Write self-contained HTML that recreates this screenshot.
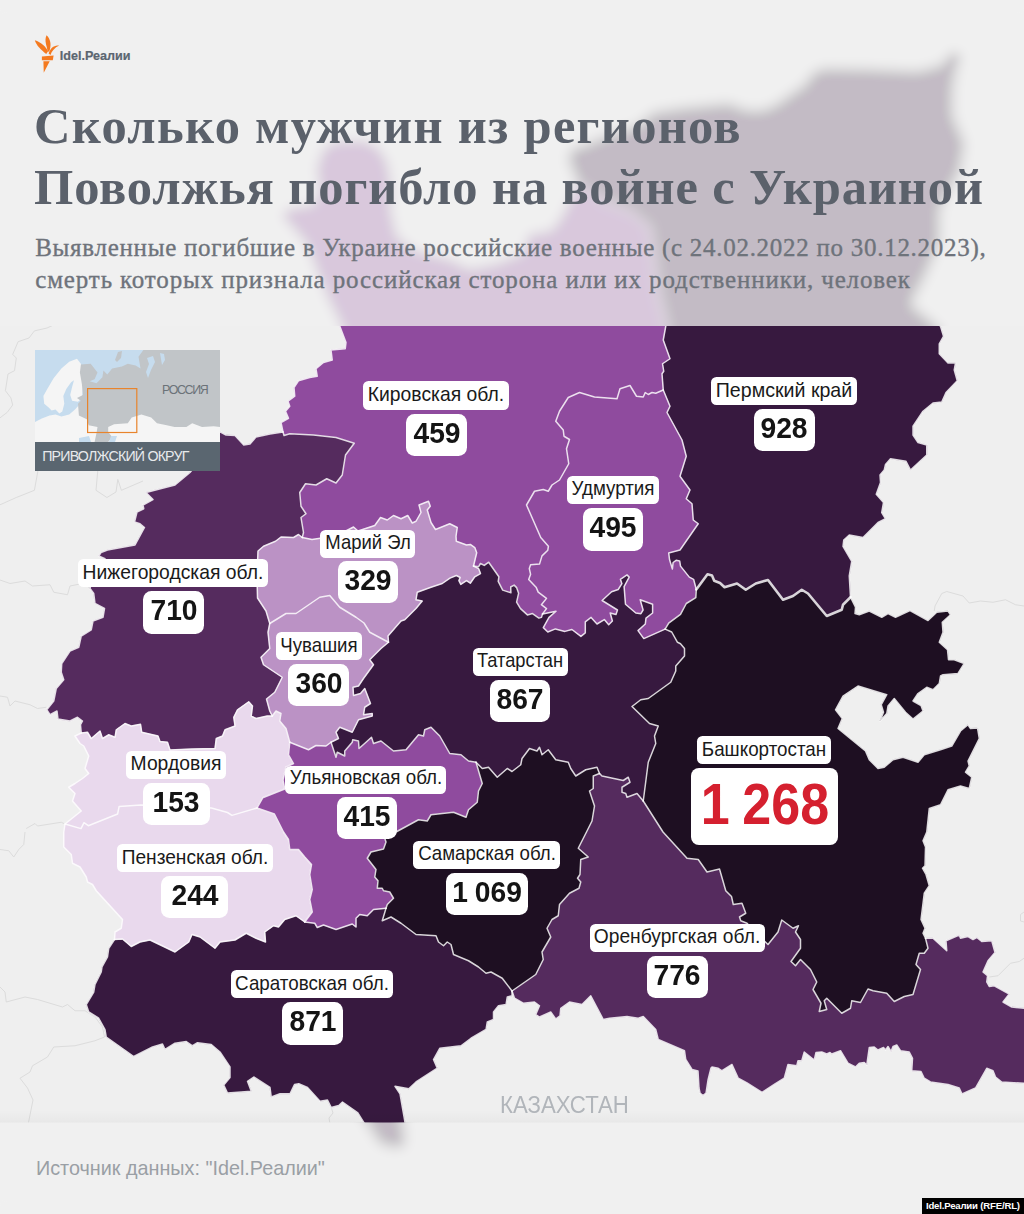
<!DOCTYPE html>
<html lang="ru"><head><meta charset="utf-8"><title>Idel.Реалии</title>
<style>
html,body{margin:0;padding:0}
body{width:1024px;height:1214px;position:relative;overflow:hidden;background:#efefef;font-family:"Liberation Sans",sans-serif}
svg{position:absolute;left:0;top:0}
.nm,.vl{position:absolute;background:#fff;text-align:center;white-space:nowrap;color:#1a1a1a;box-sizing:border-box}
.nm{border-radius:5.5px;font-size:20.3px}
.nm span{position:absolute;left:50%;top:-1.5px;display:block}
.vl{border-radius:8.5px;font-weight:bold;font-size:30px;color:#141414}
.vl span{display:inline-block;transform:scaleX(0.94)}
.vl.w4{word-spacing:-1px}
.vl span{position:relative;top:-2px}
.vl.big{font-size:57.5px;color:#d5202f;word-spacing:-2px;border-radius:8px}
.vl.big span{top:-2px;transform:scaleX(0.905)}
#title{position:absolute;left:34px;top:96px;font-family:"Liberation Serif",serif;font-weight:bold;font-size:50.5px;line-height:61px;color:#5b616b;white-space:nowrap;margin:0}
#sub{position:absolute;left:35.2px;top:232px;font-family:"Liberation Serif",serif;font-size:25px;line-height:31.5px;color:#6e737b;-webkit-text-stroke:0.35px #6e737b;white-space:nowrap;margin:0}
#logo{position:absolute;left:59.8px;top:47.5px;font-weight:bold;font-size:12.6px;color:#5b6670;-webkit-text-stroke:0.2px #5b6670;white-space:nowrap;line-height:16px}
#src{position:absolute;left:36px;top:1157px;font-size:19.8px;color:#9a9fa5;white-space:nowrap;line-height:22px}
#kaz{position:absolute;left:500px;top:1091.5px;font-size:23.5px;color:#b1b5ba;white-space:nowrap;line-height:26px;transform:scaleX(0.946);transform-origin:0 0}
#badge{position:absolute;left:921.8px;top:1197.8px;width:102.2px;height:16.2px;background:#000;color:#fff;font-weight:bold;font-size:9.6px;line-height:16.2px;text-align:center;white-space:nowrap;letter-spacing:-0.185px}
#inset{position:absolute;left:35px;top:350px;width:185px;height:120.5px;overflow:hidden}
#insbar{position:absolute;left:0;top:91.7px;width:185px;height:29px;background:#5a6670;color:#e8eaec;font-size:14.2px;letter-spacing:-0.8px;line-height:29px;white-space:nowrap}
#insbar span{position:absolute;left:7.2px;top:0.4px}
#ros{position:absolute;left:127px;top:32px;font-size:12.4px;letter-spacing:-1.35px;color:#6b7278;line-height:16px;white-space:nowrap}
</style></head>
<body>
<svg width="1024" height="1214" viewBox="0 0 1024 1214">
<defs>
<g id="mapg">
<rect x="0" y="0" width="1024" height="1214" fill="#efefef"/>
<polyline points="0,417.8 7.2,412.4 12.7,405 10.9,397.9 5.4,390.7 8,374 14.5,370.7 16.3,358 12.7,354.4 18.1,341.7 29,338 34.4,330.9 47,328 60,322" fill="none" stroke="#dcdcdc" stroke-width="1"/>
<polyline points="0,504.8 16.3,497.5 34.4,490.3 38,470.4" fill="none" stroke="#dcdcdc" stroke-width="1"/>
<polyline points="97.8,470.4 96,490.3 106.9,497.5 116,492 117.8,479.4 121.4,490.3 143,481" fill="none" stroke="#dcdcdc" stroke-width="1"/>
<polyline points="0,580 10,583.5 25,581 32.5,586 50,584.75 53.75,592.25 67.5,594.75 70,586 82.5,583.5 90,588" fill="none" stroke="#dcdcdc" stroke-width="1"/>
<polyline points="0,696 7.5,697.25 10,706 15,701 30,704.75 37.5,708.5 46.25,707.25" fill="none" stroke="#dcdcdc" stroke-width="1"/>
<polyline points="26.25,828.5 35,823.5 37.5,826 61.25,822.25 65,824" fill="none" stroke="#dcdcdc" stroke-width="1"/>
<polyline points="0,987 5,992 6.25,1002 25,997 37.5,999.5 50,1003.25 62.5,1007 67.5,1004.5 75,1010.75 85,1010.75 95,1017 102.5,1027 104.5,1037" fill="none" stroke="#dcdcdc" stroke-width="1"/>
<polyline points="104.5,1037 95,1040.75 75,1045.75 53.75,1047 47.5,1057 32.5,1065.75 30,1072 20,1078.25 27.5,1088 33,1100 28,1125" fill="none" stroke="#dcdcdc" stroke-width="1"/>
<polyline points="25,832 23.75,844.5 18.75,849.5 13.75,857 8.75,850.75 0,849.5" fill="none" stroke="#dcdcdc" stroke-width="1"/>
<polyline points="934.25,611 935,606 941.75,593.5 946.75,591.5 963,596 969.25,603 980.5,601 993,602.25 1005.5,599.75 1015.5,604.75 1024,606" fill="none" stroke="#dcdcdc" stroke-width="1"/>
<polyline points="989.25,977 998,975.75 1010.5,963.25 1019.25,961.5 1024,958.25" fill="none" stroke="#dcdcdc" stroke-width="1"/>
<polyline points="1024,912 1020.5,914.5 1020.5,921 1024,922" fill="none" stroke="#dcdcdc" stroke-width="1"/>
<polyline points="331.25,1107.5 333,1113 329,1118 330,1124" fill="none" stroke="#dcdcdc" stroke-width="1"/>
<polygon points="599.5,773.5 593.25,776 593.25,788.5 589.5,791 594.5,806 592,821 586.5,832 578.25,848.25 588.25,857 580.75,859.5 580,874.5 577.5,878.25 580.75,882 579,888.25 569.5,893.25 559.5,904.5 558.25,915.75 552,919.5 547,928.25 550.75,937 542,952 543.25,959.5 535.75,974.5 512,991 514.5,998.25 523.25,1003.25 534.5,1002 539.5,1005.75 535.75,1014.5 539.5,1017 550.75,1012 555.75,1019 560,1015.75 560.75,1008.25 569.5,1002 582,1004.5 590.75,995.75 603.25,1019.5 609.5,1018.25 627,1016.5 638.25,1018.25 643.25,1016.5 655.75,1029.5 658.25,1039.5 684.5,1050.75 685.75,1059.5 692,1069.5 698,1071 699,1088 700,1093 703,1095.5 706,1093 708,1080 711,1068 712,1067 718.25,1068.25 722,1070.75 732,1064.5 738.25,1078.25 747,1083 762,1092.5 775,1084 784.25,1078.25 788,1064.5 796.75,1065.75 798,1060.75 801.75,1060.75 804.25,1052 814.25,1060 816,1052.5 821.75,1052 826.75,1054 830,1052.5 831.75,1054 840.5,1050.75 848,1063.25 855.5,1067 859.25,1063.25 864.25,1062.5 866.75,1065 869.25,1047.5 874.25,1047 878,1050 883.5,1047.5 885.5,1050 888,1046.5 891,1051.5 893,1046.5 896.75,1045 900.5,1050.75 909.25,1052 912.5,1058.25 911.75,1070.75 921,1071.5 924.25,1078.25 930.5,1082 948,1084.5 959.25,1088 962,1094 975.5,1088 986.75,1068.25 993,1070.75 995.5,1077 1001.75,1082 1024,1083.25 1032,1083 1032,1008 1024,1008.25 1011.75,1007 1003,1002 1009.25,994 994.25,985.75 989.25,986.5 986.75,982 987.5,975.75 983,972 988,960.75 995,952.5 991.75,940.75 981.75,941.5 976.75,937.5 973,939.5 968,936.5 960.5,938.25 959.25,935 946,940.75 946.75,950.75 933,938.25 925.5,938.25 928,948.25 924.25,953.25 919.25,953.25 916,964.5 920.5,969.5 913,994.5 904.25,996.5 894.25,1001.5 886.75,993.25 873,990.75 868,989 860.5,1002.5 851.75,1000.75 850.5,1008.25 841.75,1013.25 826.75,998.25 824.25,1000.75 826.75,1009.5 819.25,1011.5 821,1003.25 813,989.5 816.75,982 810.5,969.5 800.5,959.5 795.5,965.75 791,961.5 800.5,948.25 800.5,939.5 795.5,932 798.5,925.75 793,928.25 781.75,920 778,932 768,944.5 757,934 747,923.25 740.75,920.75 739.5,917 745.75,913.25 742,903.25 733.25,904.5 731.5,896.5 725.75,890.75 719.5,869 707,872 698.25,859.5 687,858.25 663,832 643.25,801 637,793.5 627,797.25 625.75,793.5 622,792.25 622,787.25 630,782.25 628.25,777.25 623.25,780.5 602,776" fill="#552b5e" stroke="#552b5e" stroke-width="0.6" stroke-linejoin="round"/>
<polygon points="575,182 566,160 570,148 582.5,143.5 611,131.6 634.5,124.5 653.4,110 681.8,105.6 729,101 748,108 762,108 776,102 790,92 802,84 812,71 823.6,66 870.9,67 918,69 940,63 952,50 963,55 958,72 955,90 955,115 967,143.4 962,171.8 941.8,209.6 941.8,242.7 927.6,275.8 913.4,304 940.5,326.25 943.5,336.25 939.25,343.75 939.25,353.75 948,363 955.5,363 954.25,370 957.25,380.75 946,392.5 941.75,402 933,403 923,411.25 913,426.25 913,435 918,442.5 926.75,445 926.75,455 910.5,470 906,461.25 890.5,458.75 885.5,464.5 884.25,470 880,475 880.5,482.5 876.25,494.25 883.5,502.5 881.75,512.5 885.5,518.75 878,522.5 863,537.5 849.25,535 843.75,540 843,546.25 851.75,561.25 849.25,576 850.5,597.25 843,604.75 841.75,609.75 826.75,616 808,593.5 801.75,589.75 793,596 783,599.75 768,580 755.75,583.5 745.75,589.75 737,583.5 724.5,587.25 720,583 714.2,580.8 712,575.6 707.5,574.2 696.3,589.5 693.6,579.3 689.3,577.1 680.5,566.1 679.7,561 676.1,560.3 673.1,562.5 672.4,569 669.5,559.5 668.7,552.9 680,550 698.25,523.75 693.25,520 692,503.75 686.25,498.75 690,490 680,476.25 686.25,456.25 682,440 667,412.5 670,406.25 663.25,390 662,373.75 663.75,371.25 662.5,363.75 670,358.75 663.25,340 665.75,326.25 658,295 653,257 649,228 630,212 600,200" fill="#37193f" stroke="#37193f" stroke-width="0.6" stroke-linejoin="round"/>
<polygon points="575,182 600,200 630,212 649,228 653,257 658,295 665.75,326.25 663.25,340 670,358.75 662.5,363.75 663.75,371.25 662,373.75 663.25,390 655.75,393.25 652,392.5 648.25,394.5 645.25,392.5 643.25,397 636.5,396.25 630,385.5 620,388.75 617,398.75 594.5,397 579.5,392.5 568.25,397.5 559.5,411.25 555.75,421.25 563.25,430 564,436.25 569.5,439.5 566.5,448.75 568.75,463.75 559.5,480 552,485 548.25,491.25 543.25,489.5 534.5,491.25 526.5,505 540.75,537.5 548.4,546.3 547.8,550.2 542,555.9 539.5,564.1 530.6,564.8 529.3,568.6 530.6,574.3 528.7,579.4 536.3,587.6 538.2,592.1 546.5,598.4 541.4,604.7 546.5,608.6 542.5,614 541.4,617.4 538.9,618.1 532.5,613.6 527.4,614.9 520.5,608.6 516.6,602.2 518.6,593.3 516.6,587.6 514.1,585.1 510.7,587 510.9,592.7 502.7,590.1 498.2,581.3 498.9,576.8 488.7,562.2 484.3,565.4 480.5,563.5 478.6,566.7 473.5,566 476.7,552.7 474.8,547.6 470.3,544.4 466.5,545 456.3,541.3 456,536.25 457.25,527.5 449.75,523.75 435.5,529.5 431,522.5 427.25,510 430.25,506.25 428.5,501.25 419,505 421,512.5 416,521.25 412.25,523 407.75,515.5 401,518.75 393.5,515.5 387.25,520 380.5,517.5 374.75,525.5 358,531 353.5,527 340,534 322,538 312,539.5 302.25,537.5 303.5,532.5 301,517.5 306,513.75 301,506.25 299.75,492.5 305.5,483.75 316,485 326.75,478.75 336,483 342.25,475 345.5,455 354.25,443.25 336,437.5 313.5,435 289.75,433.75 284,435.5 283,432 281,422.5 288.5,418.25 285.5,411.25 289.75,406.25 288,401.25 294.75,396.25 294,387.5 298.5,380.75 309.75,377.5 317.25,376.25 316,368.75 323.5,362.5 332.25,360 331,350 345.25,348.75 346,342.5 339.75,326 333,312 328,303 315,271 305.5,245 289,226 280,216 289,207 312,203.5 318,190.5 315,168 321.5,148.7 334.5,140 363.5,138.6 379.6,146.7 389,161.6 394,190.5 392,207 398,235 415,248.6 450.5,258 470,267 495.6,262 521.4,252 527.8,233 550.4,229 560,216 568,200" fill="#8f4b9e" stroke="#8f4b9e" stroke-width="0.6" stroke-linejoin="round"/>
<polygon points="283,432 270,434 256,437 250,444 243.75,445 235,435.5 226,435 220,431.75 214,440 200,460 190,472.5 175,485 146,492.5 153,499.5 143,505 143.75,508.75 137,512 134.5,522 140,523.75 144.5,527.5 135,545 107.5,550 101,552.5 98.75,556 105,558.75 100,566 92,580 90,588.5 93.75,593.5 95,603.5 104.5,608.5 103,617.25 93,621 91.25,629.75 81.25,636 78.75,647.25 70,651 61.75,663.5 61.25,672.25 63.75,679.75 56.25,688.5 53.75,701 46.75,709.75 50,714.75 57,711 58,719 70,721 77.5,717.25 82.5,721 80.5,724.75 81.25,733 87.5,732.25 91.25,738.5 100,731 102.5,738.5 108.75,734.75 115,737.25 116.25,729.75 125,723.5 131.25,726 140.5,724.25 141.75,732.25 158,736 160,741.5 167.5,742.25 170,750 192,749 215,748.5 216.25,738.5 222.5,736 225,729.75 235,726 233.75,717.25 237.5,709.75 248.75,701.75 252.5,706 251.25,716 256,718.5 267.25,716 272.25,716 269.75,711 266.5,699 274.75,692.25 282.25,677.25 263.5,664.75 261,657.25 269.75,648.5 268,632.25 269.75,623.5 266,611 257.5,598 257,575 258,551 263.5,546.25 275.5,541.25 281,537 293.5,537.5 298.5,534.5 302.25,537.5 303.5,532.5 301,517.5 306,513.75 301,506.25 299.75,492.5 305.5,483.75 316,485 326.75,478.75 336,483 342.25,475 345.5,455 354.25,443.25 336,437.5 313.5,435 289.75,433.75 284,435.5" fill="#552b5e" stroke="#552b5e" stroke-width="0.6" stroke-linejoin="round"/>
<polygon points="114.5,939.5 122.5,939 131.25,946.5 140,942 150,940 175,952 188.75,942 192,934.5 200,937 215,948.25 220,942 235,940 246.25,933.25 256,938.25 265.5,942 264.75,932 273.5,925.75 278.5,927 284.75,919.5 296,915.75 304.75,922 314.75,923.25 317.25,927.5 323.5,925 336,929.5 352.25,924 356,927 356,918.25 359.75,914.5 367.25,915.75 373.5,909.5 386,908.25 382.25,920.75 391,917 401,923.25 416,934.5 436,935.75 438.5,942 443.5,945.75 447.25,942 451,944.5 453.5,954.5 468.5,960.75 478.5,967 486,973.25 491,972 502.25,978.25 512,991 512,995.75 507.25,997 506,1004.5 498.5,1005.75 493.5,1012 493.5,1019.5 487.25,1022 486,1029.5 471,1038.25 461,1045.75 439.75,1048.25 433.5,1059.5 437.25,1068.25 416,1082 408.75,1088.75 395,1086.25 400,1093.75 405,1122.5 407,1135 406,1148 392,1150 378,1145 363.75,1122.5 357.5,1112.5 342.5,1102 338.75,1105.5 331.25,1107.5 327.5,1100 320,1101.25 307.5,1087.5 298.75,1083.75 294.5,1084.5 290,1093.75 280,1093.75 271.25,1097 270,1087.5 253.75,1077 247.5,1081.25 251.25,1091.25 227.5,1093 223.75,1085 230,1077.5 230,1067 220,1052 211.25,1044.5 197.5,1042.75 192.5,1045.75 186.25,1041.5 175,1043.25 165,1049.5 162.5,1044 152.5,1047 133.75,1056.5 106.25,1037 105,1029.5 98.75,1018.25 88.75,1012 86.25,1004.5 93.75,992 95,984.5 101.25,972 102,967 107.5,957 108.75,948.25" fill="#37193f" stroke="#37193f" stroke-width="0.6" stroke-linejoin="round"/>
<polygon points="65,824 81,828.6 84,822.7 88.3,825.7 117.6,814 119.1,806.6 141,805 175,806 211.4,808 227.5,812.5 232,815.4 257,808 274.4,814 283.5,832 288.5,839.5 289.75,849.5 298.5,849.5 304.75,857 311.5,864.5 309.75,874.5 312.25,889.5 309.75,899.5 312.25,912 304.75,922 296,915.75 284.75,919.5 278.5,927 273.5,925.75 264.75,932 265.5,942 256,938.25 246.25,933.25 235,940 220,942 215,948.25 200,937 192,934.5 188.75,942 175,952 150,940 140,942 131.25,946.5 122.5,939 114.5,939.5 115,932 121.25,928.25 122.5,919.5 96.25,890.75 92.5,884.5 87.5,882 86.25,877 80,867 72.5,863.25 71.25,854.5 63.75,847 63.75,832" fill="#e9d9ed" stroke="#e9d9ed" stroke-width="0.6" stroke-linejoin="round"/>
<polygon points="81.25,733 87.5,732.25 91.25,738.5 100,731 102.5,738.5 108.75,734.75 115,737.25 116.25,729.75 125,723.5 131.25,726 140.5,724.25 141.75,732.25 158,736 160,741.5 167.5,742.25 170,750 192,749 215,748.5 216.25,738.5 222.5,736 225,729.75 235,726 233.75,717.25 237.5,709.75 248.75,701.75 252.5,706 251.25,716 256,718.5 267.25,716 272.25,716 276,711 281,713.5 279.75,721 286,728.5 289.75,742.25 288.5,754.75 293.5,763.5 286,767 283,780 284.7,789 262.7,797.8 257,808 232,815.4 227.5,812.5 211.4,808 175,806 141,805 119.1,806.6 117.6,814 88.3,825.7 84,822.7 81,828.6 65,824 75,816 81.25,811 72.5,801 75,793.5 68.75,787.25 75,783.5 82.5,778.5 88.75,773.5 85,768.5 88.75,756 83.75,746 80,743.5 75,736" fill="#e9d9ed" stroke="#e9d9ed" stroke-width="0.6" stroke-linejoin="round"/>
<polygon points="289.75,742.25 308.5,749.75 316,745.5 326,746 331,742.25 336,757.25 337.25,752.25 344.75,756 344.75,751 352.25,742.25 352.75,739.75 358.5,741 359,748.5 366,742.25 371.5,737.25 373.5,743.5 381,741 393.5,751 406,749.75 418.5,734.75 423.5,736 424.75,729.75 431,727.25 439.75,736 449.75,753.5 461,754.75 468.5,761 476,762.25 482.25,783.5 478.5,791 477.25,802.25 468.5,809.75 466,817.25 453.5,812.25 431,814.75 427.25,821 418.5,819.75 396,832 384.75,838.25 386,842 383.5,849 371,852 367.25,858.25 376,869.5 374.75,877 378,880.75 377.25,888.25 382.25,888.25 383.5,890.75 389.75,892 393.5,898.25 387.25,904.5 386,908.25 373.5,909.5 367.25,915.75 359.75,914.5 356,918.25 356,927 352.25,924 336,929.5 323.5,925 317.25,927.5 314.75,923.25 304.75,922 312.25,912 309.75,899.5 312.25,889.5 309.75,874.5 311.5,864.5 304.75,857 298.5,849.5 289.75,849.5 288.5,839.5 283.5,832 274.4,814 257,808 262.7,797.8 284.7,789 283,780 286,767 293.5,763.5 288.5,754.75" fill="#8f4b9e" stroke="#8f4b9e" stroke-width="0.6" stroke-linejoin="round"/>
<polygon points="476,762.25 482.25,768.5 488.5,767.25 497.25,777.25 507.25,768.5 512,771.5 520.75,764.75 522,758.5 529.5,748.5 537,751 539.5,747.25 542,754.75 548.25,749.75 555.75,759.75 568.25,762.25 570.75,768.5 575.75,776 585.75,769.75 597,767.25 599.5,773.5 593.25,776 593.25,788.5 589.5,791 594.5,806 592,821 586.5,832 578.25,848.25 588.25,857 580.75,859.5 580,874.5 577.5,878.25 580.75,882 579,888.25 569.5,893.25 559.5,904.5 558.25,915.75 552,919.5 547,928.25 550.75,937 542,952 543.25,959.5 535.75,974.5 512,991 502.25,978.25 491,972 486,973.25 478.5,967 468.5,960.75 453.5,954.5 451,944.5 447.25,942 443.5,945.75 438.5,942 436,935.75 416,934.5 401,923.25 391,917 382.25,920.75 386,908.25 387.25,904.5 393.5,898.25 389.75,892 383.5,890.75 382.25,888.25 377.25,888.25 378,880.75 374.75,877 376,869.5 367.25,858.25 371,852 383.5,849 386,842 384.75,838.25 396,832 418.5,819.75 427.25,821 431,814.75 453.5,812.25 466,817.25 468.5,809.75 477.25,802.25 478.5,791 482.25,783.5" fill="#1e0f22" stroke="#1e0f22" stroke-width="0.6" stroke-linejoin="round"/>
<polygon points="473.5,566 478.6,566.7 480.5,563.5 484.3,565.4 488.7,562.2 498.9,576.8 498.2,581.3 502.7,590.1 510.9,592.7 510.7,587 514.1,585.1 516.6,587.6 518.6,593.3 516.6,602.2 520.5,608.6 527.4,614.9 532.5,613.6 538.9,618.1 541.4,617.4 542.5,614 556,611.3 549,617.4 543.3,627.6 547.8,632 555.4,628.9 564.9,631.4 571.9,629.5 580.9,636.4 585.3,632.8 585.3,621.8 591.1,617.4 597,624 604.3,619.6 608.7,624.7 612.4,621 610.2,613 616,614.4 617.5,610 602.1,600.5 611.6,591.7 618.2,589.5 621.9,583.7 620.4,579.3 627,574.9 629.2,577.1 624.1,586.6 625.5,604.2 635.8,613 640.9,613.7 643.1,610 640.2,599.8 652.6,604.2 652.6,613 646,618.1 645.3,624 638,630.6 643.8,638.6 665.1,629.1 671.7,632 677.5,642.3 680.5,643.7 684.5,648.5 684.5,656 675.75,666 675.75,671 670.75,682.25 648.25,698.5 640.75,699.75 632,706.5 649.5,723.5 658.25,726 654.5,736 655.75,743.5 648.25,762.25 643.25,801 637,793.5 627,797.25 625.75,793.5 622,792.25 622,787.25 630,782.25 628.25,777.25 623.25,780.5 602,776 599.5,773.5 597,767.25 585.75,769.75 575.75,776 570.75,768.5 568.25,762.25 555.75,759.75 548.25,749.75 542,754.75 539.5,747.25 537,751 529.5,748.5 522,758.5 520.75,764.75 512,771.5 507.25,768.5 497.25,777.25 488.5,767.25 482.25,768.5 476,762.25 468.5,761 461,754.75 449.75,753.5 439.75,736 431,727.25 424.75,729.75 423.5,736 418.5,734.75 406,749.75 393.5,751 381,741 373.5,743.5 371.5,737.25 366,742.25 359,748.5 358.5,741 352.75,739.75 352.25,742.25 344.75,751 344.75,756 337.25,752.25 336,757.25 331,742.25 338.5,738.5 336,732.25 339.75,727.25 352.25,732.25 358.5,719.75 372.25,716 372.25,713.5 363.5,714.75 364.75,707.25 370.5,703.5 364.75,688.5 360.5,693.5 353.5,695.5 353,687.25 358.5,686 363.5,678.5 373.5,664.75 369.75,659.75 381,648.5 388.5,642.25 388,636 401,621 404.75,619.75 416,608.5 422.25,601 416,599.75 417.25,592.25 431,587.25 442.25,583.5 450,578.1 456.3,575.5 460.2,577.5 458.9,580.6 460.8,584.4 466.5,580.6 470.3,583.2 474.8,576.8 480.5,573.6 478.6,568.6" fill="#37193f" stroke="#37193f" stroke-width="0.6" stroke-linejoin="round"/>
<polygon points="269.75,623.5 286,613.5 296,613.5 319.75,597.25 329.75,595.5 339.75,607.25 356,617.25 364,623 369.75,632.25 388.5,642.25 381,648.5 369.75,659.75 373.5,664.75 363.5,678.5 358.5,686 353,687.25 353.5,695.5 360.5,693.5 364.75,688.5 370.5,703.5 364.75,707.25 363.5,714.75 372.25,713.5 372.25,716 358.5,719.75 352.25,732.25 339.75,727.25 336,732.25 338.5,738.5 331,742.25 326,746 316,745.5 308.5,749.75 289.75,742.25 286,728.5 279.75,721 281,713.5 276,711 272.25,716 269.75,711 266.5,699 274.75,692.25 282.25,677.25 263.5,664.75 261,657.25 269.75,648.5 268,632.25" fill="#bb92c5" stroke="#bb92c5" stroke-width="0.6" stroke-linejoin="round"/>
<polygon points="302.25,537.5 312,539.5 322,538 340,534 353.5,527 358,531 374.75,525.5 380.5,517.5 387.25,520 393.5,515.5 401,518.75 407.75,515.5 412.25,523 416,521.25 421,512.5 419,505 428.5,501.25 430.25,506.25 427.25,510 431,522.5 435.5,529.5 449.75,523.75 457.25,527.5 456,536.25 456.3,541.3 466.5,545 470.3,544.4 474.8,547.6 476.7,552.7 473.5,566 478.6,568.6 480.5,573.6 474.8,576.8 470.3,583.2 466.5,580.6 460.8,584.4 458.9,580.6 460.2,577.5 456.3,575.5 450,578.1 442.25,583.5 431,587.25 417.25,592.25 416,599.75 422.25,601 416,608.5 404.75,619.75 401,621 388,636 388.5,642.25 369.75,632.25 364,623 356,617.25 339.75,607.25 329.75,595.5 319.75,597.25 296,613.5 286,613.5 269.75,623.5 266,611 257.5,598 257,575 258,551 263.5,546.25 275.5,541.25 281,537 293.5,537.5 298.5,534.5" fill="#bb92c5" stroke="#bb92c5" stroke-width="0.6" stroke-linejoin="round"/>
<polygon points="663.25,390 670,406.25 667,412.5 682,440 686.25,456.25 680,476.25 690,490 686.25,498.75 692,503.75 693.25,520 698.25,523.75 680,550 668.7,552.9 669.5,559.5 672.4,569 673.1,562.5 676.1,560.3 679.7,561 680.5,566.1 689.3,577.1 693.6,579.3 696.3,589.5 695.8,597.6 686.3,603.5 680.5,614.4 668.7,623.2 665.1,629.1 643.8,638.6 638,630.6 645.3,624 646,618.1 652.6,613 652.6,604.2 640.2,599.8 643.1,610 640.9,613.7 635.8,613 625.5,604.2 624.1,586.6 629.2,577.1 627,574.9 620.4,579.3 621.9,583.7 618.2,589.5 611.6,591.7 602.1,600.5 617.5,610 616,614.4 610.2,613 612.4,621 608.7,624.7 604.3,619.6 597,624 591.1,617.4 585.3,621.8 585.3,632.8 580.9,636.4 571.9,629.5 564.9,631.4 555.4,628.9 547.8,632 543.3,627.6 549,617.4 556,611.3 542.5,614 546.5,608.6 541.4,604.7 546.5,598.4 538.2,592.1 536.3,587.6 528.7,579.4 530.6,574.3 529.3,568.6 530.6,564.8 539.5,564.1 542,555.9 547.8,550.2 548.4,546.3 540.75,537.5 526.5,505 534.5,491.25 543.25,489.5 548.25,491.25 552,485 559.5,480 568.75,463.75 566.5,448.75 569.5,439.5 564,436.25 563.25,430 555.75,421.25 559.5,411.25 568.25,397.5 579.5,392.5 594.5,397 617,398.75 620,388.75 630,385.5 636.5,396.25 643.25,397 645.25,392.5 648.25,394.5 652,392.5 655.75,393.25" fill="#8f4b9e" stroke="#8f4b9e" stroke-width="0.6" stroke-linejoin="round"/>
<polygon points="696.3,589.5 707.5,574.2 712,575.6 714.2,580.8 720,583 724.5,587.25 737,583.5 745.75,589.75 755.75,583.5 768,580 783,599.75 793,596 801.75,589.75 808,593.5 826.75,616 841.75,609.75 843,604.75 850.5,597.25 855.5,607.25 855,613.5 859.25,614.75 869.25,611 881.75,617.25 888,613.5 895.5,617.25 910,610.5 928,620.5 936.75,612.25 948,611 950.5,614.75 942.25,622.25 943,632.25 939.25,642.25 947.5,649.75 948.5,659.75 954.25,659.75 964.25,663.5 958,673.5 943,674.75 940.5,676 939.25,683.5 933,689.75 926.75,687.25 918,693.5 913,701 921,705.5 923,711 913,719 905.5,712.25 894.25,698.5 888,706 886.75,713.5 880,721 883.5,712.25 881.25,704.75 886.75,694.75 858,686 843,696 835.5,709.75 842.25,718.5 838,728.5 865.5,751 869.25,759.75 878,768.5 884.25,767.25 893,759.75 903,757.25 918,762.25 924.25,754.75 940.5,749.75 951.75,746 960.5,731 968,724.75 970.5,728.5 977.5,728 979.25,738.5 968,761 969.25,766 965.5,772.25 971.75,777.25 969.25,788.5 960.5,786 948,789.75 940.5,804.75 929.25,808.5 926.75,832 923,840.75 925.5,847 925,865.75 922.5,868.25 926,874.5 929.25,885.75 924.25,893.25 921,919.5 925,928.25 923,933.25 925.5,938.25 928,948.25 924.25,953.25 919.25,953.25 916,964.5 920.5,969.5 913,994.5 904.25,996.5 894.25,1001.5 886.75,993.25 873,990.75 868,989 860.5,1002.5 851.75,1000.75 850.5,1008.25 841.75,1013.25 826.75,998.25 824.25,1000.75 826.75,1009.5 819.25,1011.5 821,1003.25 813,989.5 816.75,982 810.5,969.5 800.5,959.5 795.5,965.75 791,961.5 800.5,948.25 800.5,939.5 795.5,932 798.5,925.75 793,928.25 781.75,920 778,932 768,944.5 757,934 747,923.25 740.75,920.75 739.5,917 745.75,913.25 742,903.25 733.25,904.5 731.5,896.5 725.75,890.75 719.5,869 707,872 698.25,859.5 687,858.25 663,832 643.25,801 648.25,762.25 655.75,743.5 654.5,736 658.25,726 649.5,723.5 632,706.5 640.75,699.75 648.25,698.5 670.75,682.25 675.75,671 675.75,666 684.5,656 684.5,648.5 680.5,643.7 677.5,642.3 671.7,632 665.1,629.1 668.7,623.2 680.5,614.4 686.3,603.5 695.8,597.6" fill="#1e0f22" stroke="#1e0f22" stroke-width="0.6" stroke-linejoin="round"/>
<g fill="none" stroke="#fff" stroke-opacity="0.82" stroke-width="1.5" stroke-linejoin="round" stroke-linecap="round">
<polyline points="283,432 281,422.5 288.5,418.25 285.5,411.25 289.75,406.25 288,401.25 294.75,396.25 294,387.5 298.5,380.75 309.75,377.5 317.25,376.25 316,368.75 323.5,362.5 332.25,360 331,350 345.25,348.75 346,342.5 339.75,326 333,312 328,303 315,271 305.5,245 289,226 280,216 289,207 312,203.5 318,190.5 315,168 321.5,148.7 334.5,140 363.5,138.6 379.6,146.7 389,161.6 394,190.5 392,207 398,235 415,248.6 450.5,258 470,267 495.6,262 521.4,252 527.8,233 550.4,229 560,216 568,200 575,182"/>
<polyline points="575,182 600,200 630,212 649,228 653,257 658,295 665.75,326.25 663.25,340 670,358.75 662.5,363.75 663.75,371.25 662,373.75 663.25,390"/>
<polyline points="575,182 566,160 570,148 582.5,143.5 611,131.6 634.5,124.5 653.4,110 681.8,105.6 729,101 748,108 762,108 776,102 790,92 802,84 812,71 823.6,66 870.9,67 918,69 940,63 952,50 963,55 958,72 955,90 955,115 967,143.4 962,171.8 941.8,209.6 941.8,242.7 927.6,275.8 913.4,304 940.5,326.25 943.5,336.25 939.25,343.75 939.25,353.75 948,363 955.5,363 954.25,370 957.25,380.75 946,392.5 941.75,402 933,403 923,411.25 913,426.25 913,435 918,442.5 926.75,445 926.75,455 910.5,470 906,461.25 890.5,458.75 885.5,464.5 884.25,470 880,475 880.5,482.5 876.25,494.25 883.5,502.5 881.75,512.5 885.5,518.75 878,522.5 863,537.5 849.25,535 843.75,540 843,546.25 851.75,561.25 849.25,576 850.5,597.25"/>
<polyline points="283,432 284,435.5 289.75,433.75 313.5,435 336,437.5 354.25,443.25 345.5,455 342.25,475 336,483 326.75,478.75 316,485 305.5,483.75 299.75,492.5 301,506.25 306,513.75 301,517.5 303.5,532.5 302.25,537.5"/>
<polyline points="302.25,537.5 312,539.5 322,538 340,534 353.5,527 358,531 374.75,525.5 380.5,517.5 387.25,520 393.5,515.5 401,518.75 407.75,515.5 412.25,523 416,521.25 421,512.5 419,505 428.5,501.25 430.25,506.25 427.25,510 431,522.5 435.5,529.5 449.75,523.75 457.25,527.5 456,536.25 456.3,541.3 466.5,545 470.3,544.4 474.8,547.6 476.7,552.7 473.5,566"/>
<polyline points="473.5,566 478.6,566.7 480.5,563.5 484.3,565.4 488.7,562.2 498.9,576.8 498.2,581.3 502.7,590.1 510.9,592.7 510.7,587 514.1,585.1 516.6,587.6 518.6,593.3 516.6,602.2 520.5,608.6 527.4,614.9 532.5,613.6 538.9,618.1 541.4,617.4 542.5,614"/>
<polyline points="663.25,390 655.75,393.25 652,392.5 648.25,394.5 645.25,392.5 643.25,397 636.5,396.25 630,385.5 620,388.75 617,398.75 594.5,397 579.5,392.5 568.25,397.5 559.5,411.25 555.75,421.25 563.25,430 564,436.25 569.5,439.5 566.5,448.75 568.75,463.75 559.5,480 552,485 548.25,491.25 543.25,489.5 534.5,491.25 526.5,505 540.75,537.5 548.4,546.3 547.8,550.2 542,555.9 539.5,564.1 530.6,564.8 529.3,568.6 530.6,574.3 528.7,579.4 536.3,587.6 538.2,592.1 546.5,598.4 541.4,604.7 546.5,608.6 542.5,614"/>
<polyline points="663.25,390 670,406.25 667,412.5 682,440 686.25,456.25 680,476.25 690,490 686.25,498.75 692,503.75 693.25,520 698.25,523.75 680,550 668.7,552.9 669.5,559.5 672.4,569 673.1,562.5 676.1,560.3 679.7,561 680.5,566.1 689.3,577.1 693.6,579.3 696.3,589.5"/>
<polyline points="542.5,614 556,611.3 549,617.4 543.3,627.6 547.8,632 555.4,628.9 564.9,631.4 571.9,629.5 580.9,636.4 585.3,632.8 585.3,621.8 591.1,617.4 597,624 604.3,619.6 608.7,624.7 612.4,621 610.2,613 616,614.4 617.5,610 602.1,600.5 611.6,591.7 618.2,589.5 621.9,583.7 620.4,579.3 627,574.9 629.2,577.1 624.1,586.6 625.5,604.2 635.8,613 640.9,613.7 643.1,610 640.2,599.8 652.6,604.2 652.6,613 646,618.1 645.3,624 638,630.6 643.8,638.6 665.1,629.1"/>
<polyline points="665.1,629.1 668.7,623.2 680.5,614.4 686.3,603.5 695.8,597.6 696.3,589.5"/>
<polyline points="696.3,589.5 707.5,574.2 712,575.6 714.2,580.8 720,583 724.5,587.25 737,583.5 745.75,589.75 755.75,583.5 768,580 783,599.75 793,596 801.75,589.75 808,593.5 826.75,616 841.75,609.75 843,604.75 850.5,597.25" stroke-width="2.6"/>
<polyline points="850.5,597.25 855.5,607.25 855,613.5 859.25,614.75 869.25,611 881.75,617.25 888,613.5 895.5,617.25 910,610.5 928,620.5 936.75,612.25 948,611 950.5,614.75 942.25,622.25 943,632.25 939.25,642.25 947.5,649.75 948.5,659.75 954.25,659.75 964.25,663.5 958,673.5 943,674.75 940.5,676 939.25,683.5 933,689.75 926.75,687.25 918,693.5 913,701 921,705.5 923,711 913,719 905.5,712.25 894.25,698.5 888,706 886.75,713.5 880,721 883.5,712.25 881.25,704.75 886.75,694.75 858,686 843,696 835.5,709.75 842.25,718.5 838,728.5 865.5,751 869.25,759.75 878,768.5 884.25,767.25 893,759.75 903,757.25 918,762.25 924.25,754.75 940.5,749.75 951.75,746 960.5,731 968,724.75 970.5,728.5 977.5,728 979.25,738.5 968,761 969.25,766 965.5,772.25 971.75,777.25 969.25,788.5 960.5,786 948,789.75 940.5,804.75 929.25,808.5 926.75,832 923,840.75 925.5,847 925,865.75 922.5,868.25 926,874.5 929.25,885.75 924.25,893.25 921,919.5 925,928.25 923,933.25 925.5,938.25"/>
<polyline points="665.1,629.1 671.7,632 677.5,642.3 680.5,643.7 684.5,648.5 684.5,656 675.75,666 675.75,671 670.75,682.25 648.25,698.5 640.75,699.75 632,706.5 649.5,723.5 658.25,726 654.5,736 655.75,743.5 648.25,762.25 643.25,801"/>
<polyline points="643.25,801 663,832 687,858.25 698.25,859.5 707,872 719.5,869 725.75,890.75 731.5,896.5 733.25,904.5 742,903.25 745.75,913.25 739.5,917 740.75,920.75 747,923.25 757,934 768,944.5 778,932 781.75,920 793,928.25 798.5,925.75 795.5,932 800.5,939.5 800.5,948.25 791,961.5 795.5,965.75 800.5,959.5 810.5,969.5 816.75,982 813,989.5 821,1003.25 819.25,1011.5 826.75,1009.5 824.25,1000.75 826.75,998.25 841.75,1013.25 850.5,1008.25 851.75,1000.75 860.5,1002.5 868,989 873,990.75 886.75,993.25 894.25,1001.5 904.25,996.5 913,994.5 920.5,969.5 916,964.5 919.25,953.25 924.25,953.25 928,948.25 925.5,938.25"/>
<polyline points="302.25,537.5 298.5,534.5 293.5,537.5 281,537 275.5,541.25 263.5,546.25 258,551 257,575 257.5,598 266,611 269.75,623.5"/>
<polyline points="269.75,623.5 286,613.5 296,613.5 319.75,597.25 329.75,595.5 339.75,607.25 356,617.25 364,623 369.75,632.25 388.5,642.25"/>
<polyline points="388.5,642.25 388,636 401,621 404.75,619.75 416,608.5 422.25,601 416,599.75 417.25,592.25 431,587.25 442.25,583.5 450,578.1 456.3,575.5 460.2,577.5 458.9,580.6 460.8,584.4 466.5,580.6 470.3,583.2 474.8,576.8 480.5,573.6 478.6,568.6 473.5,566"/>
<polyline points="269.75,623.5 268,632.25 269.75,648.5 261,657.25 263.5,664.75 282.25,677.25 274.75,692.25 266.5,699 269.75,711 272.25,716"/>
<polyline points="388.5,642.25 381,648.5 369.75,659.75 373.5,664.75 363.5,678.5 358.5,686 353,687.25 353.5,695.5 360.5,693.5 364.75,688.5 370.5,703.5 364.75,707.25 363.5,714.75 372.25,713.5 372.25,716 358.5,719.75 352.25,732.25 339.75,727.25 336,732.25 338.5,738.5 331,742.25"/>
<polyline points="272.25,716 276,711 281,713.5 279.75,721 286,728.5 289.75,742.25"/>
<polyline points="289.75,742.25 308.5,749.75 316,745.5 326,746 331,742.25"/>
<polyline points="283,432 270,434 256,437 250,444 243.75,445 235,435.5 226,435 220,431.75 214,440 200,460 190,472.5 175,485 146,492.5 153,499.5 143,505 143.75,508.75 137,512 134.5,522 140,523.75 144.5,527.5 135,545 107.5,550 101,552.5 98.75,556 105,558.75 100,566 92,580 90,588.5 93.75,593.5 95,603.5 104.5,608.5 103,617.25 93,621 91.25,629.75 81.25,636 78.75,647.25 70,651 61.75,663.5 61.25,672.25 63.75,679.75 56.25,688.5 53.75,701 46.75,709.75 50,714.75 57,711 58,719 70,721 77.5,717.25 82.5,721 80.5,724.75 81.25,733"/>
<polyline points="81.25,733 87.5,732.25 91.25,738.5 100,731 102.5,738.5 108.75,734.75 115,737.25 116.25,729.75 125,723.5 131.25,726 140.5,724.25 141.75,732.25 158,736 160,741.5 167.5,742.25 170,750 192,749 215,748.5 216.25,738.5 222.5,736 225,729.75 235,726 233.75,717.25 237.5,709.75 248.75,701.75 252.5,706 251.25,716 256,718.5 267.25,716 272.25,716"/>
<polyline points="81.25,733 75,736 80,743.5 83.75,746 88.75,756 85,768.5 88.75,773.5 82.5,778.5 75,783.5 68.75,787.25 75,793.5 72.5,801 81.25,811 75,816 65,824"/>
<polyline points="65,824 81,828.6 84,822.7 88.3,825.7 117.6,814 119.1,806.6 141,805 175,806 211.4,808 227.5,812.5 232,815.4 257,808"/>
<polyline points="289.75,742.25 288.5,754.75 293.5,763.5 286,767 283,780 284.7,789 262.7,797.8 257,808"/>
<polyline points="257,808 274.4,814 283.5,832 288.5,839.5 289.75,849.5 298.5,849.5 304.75,857 311.5,864.5 309.75,874.5 312.25,889.5 309.75,899.5 312.25,912 304.75,922"/>
<polyline points="65,824 63.75,832 63.75,847 71.25,854.5 72.5,863.25 80,867 86.25,877 87.5,882 92.5,884.5 96.25,890.75 122.5,919.5 121.25,928.25 115,932 114.5,939.5"/>
<polyline points="114.5,939.5 122.5,939 131.25,946.5 140,942 150,940 175,952 188.75,942 192,934.5 200,937 215,948.25 220,942 235,940 246.25,933.25 256,938.25 265.5,942 264.75,932 273.5,925.75 278.5,927 284.75,919.5 296,915.75 304.75,922"/>
<polyline points="304.75,922 314.75,923.25 317.25,927.5 323.5,925 336,929.5 352.25,924 356,927 356,918.25 359.75,914.5 367.25,915.75 373.5,909.5 386,908.25"/>
<polyline points="331,742.25 336,757.25 337.25,752.25 344.75,756 344.75,751 352.25,742.25 352.75,739.75 358.5,741 359,748.5 366,742.25 371.5,737.25 373.5,743.5 381,741 393.5,751 406,749.75 418.5,734.75 423.5,736 424.75,729.75 431,727.25 439.75,736 449.75,753.5 461,754.75 468.5,761 476,762.25"/>
<polyline points="476,762.25 482.25,783.5 478.5,791 477.25,802.25 468.5,809.75 466,817.25 453.5,812.25 431,814.75 427.25,821 418.5,819.75 396,832 384.75,838.25 386,842 383.5,849 371,852 367.25,858.25 376,869.5 374.75,877 378,880.75 377.25,888.25 382.25,888.25 383.5,890.75 389.75,892 393.5,898.25 387.25,904.5 386,908.25"/>
<polyline points="476,762.25 482.25,768.5 488.5,767.25 497.25,777.25 507.25,768.5 512,771.5 520.75,764.75 522,758.5 529.5,748.5 537,751 539.5,747.25 542,754.75 548.25,749.75 555.75,759.75 568.25,762.25 570.75,768.5 575.75,776 585.75,769.75 597,767.25 599.5,773.5"/>
<polyline points="599.5,773.5 602,776 623.25,780.5 628.25,777.25 630,782.25 622,787.25 622,792.25 625.75,793.5 627,797.25 637,793.5 643.25,801"/>
<polyline points="599.5,773.5 593.25,776 593.25,788.5 589.5,791 594.5,806 592,821 586.5,832 578.25,848.25 588.25,857 580.75,859.5 580,874.5 577.5,878.25 580.75,882 579,888.25 569.5,893.25 559.5,904.5 558.25,915.75 552,919.5 547,928.25 550.75,937 542,952 543.25,959.5 535.75,974.5 512,991"/>
<polyline points="386,908.25 382.25,920.75 391,917 401,923.25 416,934.5 436,935.75 438.5,942 443.5,945.75 447.25,942 451,944.5 453.5,954.5 468.5,960.75 478.5,967 486,973.25 491,972 502.25,978.25 512,991"/>
<polyline points="114.5,939.5 108.75,948.25 107.5,957 102,967 101.25,972 95,984.5 93.75,992 86.25,1004.5 88.75,1012 98.75,1018.25 105,1029.5 106.25,1037 133.75,1056.5 152.5,1047 162.5,1044 165,1049.5 175,1043.25 186.25,1041.5 192.5,1045.75 197.5,1042.75 211.25,1044.5 220,1052 230,1067 230,1077.5 223.75,1085 227.5,1093 251.25,1091.25 247.5,1081.25 253.75,1077 270,1087.5 271.25,1097 280,1093.75 290,1093.75 294.5,1084.5 298.75,1083.75 307.5,1087.5 320,1101.25 327.5,1100 331.25,1107.5 338.75,1105.5 342.5,1102 357.5,1112.5 363.75,1122.5 378,1145 392,1150 406,1148 407,1135 405,1122.5 400,1093.75 395,1086.25 408.75,1088.75 416,1082 437.25,1068.25 433.5,1059.5 439.75,1048.25 461,1045.75 471,1038.25 486,1029.5 487.25,1022 493.5,1019.5 493.5,1012 498.5,1005.75 506,1004.5 507.25,997 512,995.75 512,991"/>
<polyline points="512,991 514.5,998.25 523.25,1003.25 534.5,1002 539.5,1005.75 535.75,1014.5 539.5,1017 550.75,1012 555.75,1019 560,1015.75 560.75,1008.25 569.5,1002 582,1004.5 590.75,995.75 603.25,1019.5 609.5,1018.25 627,1016.5 638.25,1018.25 643.25,1016.5 655.75,1029.5 658.25,1039.5 684.5,1050.75 685.75,1059.5 692,1069.5 698,1071 699,1088 700,1093 703,1095.5 706,1093 708,1080 711,1068 712,1067 718.25,1068.25 722,1070.75 732,1064.5 738.25,1078.25 747,1083 762,1092.5 775,1084 784.25,1078.25 788,1064.5 796.75,1065.75 798,1060.75 801.75,1060.75 804.25,1052 814.25,1060 816,1052.5 821.75,1052 826.75,1054 830,1052.5 831.75,1054 840.5,1050.75 848,1063.25 855.5,1067 859.25,1063.25 864.25,1062.5 866.75,1065 869.25,1047.5 874.25,1047 878,1050 883.5,1047.5 885.5,1050 888,1046.5 891,1051.5 893,1046.5 896.75,1045 900.5,1050.75 909.25,1052 912.5,1058.25 911.75,1070.75 921,1071.5 924.25,1078.25 930.5,1082 948,1084.5 959.25,1088 962,1094 975.5,1088 986.75,1068.25 993,1070.75 995.5,1077 1001.75,1082 1024,1083.25 1032,1083 1032,1008 1024,1008.25 1011.75,1007 1003,1002 1009.25,994 994.25,985.75 989.25,986.5 986.75,982 987.5,975.75 983,972 988,960.75 995,952.5 991.75,940.75 981.75,941.5 976.75,937.5 973,939.5 968,936.5 960.5,938.25 959.25,935 946,940.75 946.75,950.75 933,938.25 925.5,938.25"/>
</g>
</g>
<filter id="bl" x="-5%" y="-5%" width="110%" height="110%"><feGaussianBlur stdDeviation="6"/></filter>
<linearGradient id="fsh" x1="0" y1="0" x2="0" y2="1"><stop offset="0" stop-color="#000" stop-opacity="0"/><stop offset="1" stop-color="#000" stop-opacity="0.03"/></linearGradient>
<clipPath id="chdr"><rect x="0" y="0" width="1024" height="326"/></clipPath>
<clipPath id="cftr"><rect x="0" y="1122.5" width="1024" height="92"/></clipPath>
</defs>
<use href="#mapg"/>
<g clip-path="url(#chdr)"><g filter="url(#bl)"><use href="#mapg"/></g></g>
<rect x="0" y="0" width="1024" height="326" fill="rgb(240,240,240)" fill-opacity="0.757"/>
<g clip-path="url(#cftr)"><g filter="url(#bl)"><use href="#mapg"/></g></g>
<rect x="0" y="1122.5" width="1024" height="92" fill="rgb(240,240,240)" fill-opacity="0.757"/>
<rect x="0" y="1110" width="1024" height="12.5" fill="url(#fsh)"/>
<!-- logo torch -->
<g fill="#f47a20">
<path d="M34.8 40.3 C36.5 45.8 41 49.8 46.2 54 L48 51.6 C46.5 47 41 42.3 34.8 40.3Z"/>
<path d="M46.5 35.2 C51 39 51.6 46 49.1 51.8 L47.5 51.2 C47.2 46 43.9 41 46.5 35.2Z"/>
<path d="M59.2 45.6 C54.5 44.4 50.1 48.3 48.6 53.6 L50.5 55 C51.6 51.6 54.6 47.6 59.2 45.6Z"/>
<path d="M41.9 56.4 L53.6 55.6 L52.8 60.3 L41.9 60.3Z"/>
<path d="M43.4 61.2 L49.7 61.2 L43.75 72.8Z"/>
</g>
</svg>
<div id="logo">Idel.Реалии</div>
<h1 id="title"><span style="letter-spacing:1.28px">Сколько мужчин из регионов</span><br><span style="letter-spacing:0.88px">Поволжья погибло на войне с Украиной</span></h1>
<p id="sub"><span style="letter-spacing:0.72px">Выявленные погибшие в Украине российские военные (с 24.02.2022 по 30.12.2023),</span><br><span style="letter-spacing:0.87px">смерть которых признала российская сторона или их родственники, человек</span></p>
<div id="inset">
<svg width="185" height="92" viewBox="0 0 185 92">
<rect width="185" height="92" fill="#c6dcee"/>
<polygon fill="#f5f5f5" points="0,72 6.8,68.4 14.6,65.4 20.5,64.5 26.4,66.4 34.2,64.5 40,59.6 44,55 185,55 185,92 0,92"/>
<polygon fill="#f5f5f5" points="42,8.8 34.2,11.7 26.4,18.6 18.6,28.3 11.7,40 8.4,45.9 9.2,53.7 13.7,57.6 16.6,60.5 20.5,59.6 24.4,63.5 27.3,61.5 29.3,53.7 28.3,45.9 31.3,39 36.1,32.2 39,30.3 37.1,37.1 35.2,44.9 37.1,50.8 43,51.8 47,48 48,35 46,22 46,14"/>
<polygon fill="#c1c5c8" points="45.9,14.6 55.7,13.7 62.5,22.5 59.6,29.3 54.7,31.3 61.5,33.2 67.4,27.3 68.4,20.5 72.3,24.4 77.1,18.6 86.9,16.6 92.8,13.7 100.6,15.6 105.5,18.6 103.5,6.8 108.4,0 185,0 185,77.1 178.7,76.2 167,77.1 157.2,73.2 151.4,77.1 139.6,77.1 131.8,75.2 122,73.2 116.2,67.4 106.4,64.5 96.7,67.4 92.8,73.2 79.1,74.2 73.2,77.1 73.2,82 77.1,86.9 73.2,92 59.6,92 61.5,83 62.5,77.1 53.7,75.2 51.8,69.3 43.9,65.4 43,53.7 45.9,50.8 42,47.9 47.9,44.9 46.9,34.2 44.9,22.5"/>
<polygon fill="#c1c5c8" points="80,10 83,2 87,1 86,8 82,12"/>
<polygon fill="#c6dcee" points="112,8 118,6 120,12 116,20 113,28 111,22 114,14"/>
<polygon fill="#c6dcee" points="125,3 129,4 130,10 127,15 126,9"/>
<polygon fill="#c6dcee" points="44,88 54,86 56,92 44,92"/>
<polygon fill="#c6dcee" points="76,86 82,86 80,92 74,92"/>
<rect x="52.6" y="38.6" width="49.2" height="43.9" fill="none" stroke="#e8842c" stroke-width="1.2"/>
</svg>
<div id="ros">РОССИЯ</div>
<div id="insbar"><span>ПРИВОЛЖСКИЙ ОКРУГ</span></div>
</div>
<div class="nm" id="n0" style="left:363.4px;top:381.4px;width:146px;height:28.2px;line-height:28.2px"><span style="transform:translateX(-50%) scaleX(0.9536)">Кировская обл.</span></div>
<div class="vl" id="v0" style="left:406.2px;top:413.7px;width:60.8px;height:41.9px;line-height:41.9px"><span>459</span></div>
<div class="nm" id="n1" style="left:710.8px;top:377px;width:146.6px;height:28.2px;line-height:28.2px"><span style="transform:translateX(-50%) scaleX(0.9667)">Пермский край</span></div>
<div class="vl" id="v1" style="left:753.5px;top:409px;width:61.1px;height:42.3px;line-height:42.3px"><span>928</span></div>
<div class="nm" id="n2" style="left:566.7px;top:476.4px;width:92.4px;height:27.9px;line-height:27.9px"><span style="transform:translateX(-50%) scaleX(0.9253)">Удмуртия</span></div>
<div class="vl" id="v2" style="left:582.5px;top:508.1px;width:60.6px;height:42.5px;line-height:42.5px"><span>495</span></div>
<div class="nm" id="n3" style="left:320.3px;top:530.3px;width:95px;height:27.6px;line-height:27.6px"><span style="transform:translateX(-50%) scaleX(0.9119)">Марий Эл</span></div>
<div class="vl" id="v3" style="left:337.9px;top:560.8px;width:60px;height:42.3px;line-height:42.3px"><span>329</span></div>
<div class="nm" id="n4" style="left:77.8px;top:559.3px;width:190.7px;height:28.1px;line-height:28.1px"><span style="transform:translateX(-50%) scaleX(0.9525)">Нижегородская обл.</span></div>
<div class="vl" id="v4" style="left:143.4px;top:590.8px;width:60.8px;height:42.8px;line-height:42.8px"><span>710</span></div>
<div class="nm" id="n5" style="left:275.7px;top:632.2px;width:86.1px;height:28px;line-height:28px"><span style="transform:translateX(-50%) scaleX(0.9188)">Чувашия</span></div>
<div class="vl" id="v5" style="left:288px;top:663.5px;width:61.3px;height:42.2px;line-height:42.2px"><span>360</span></div>
<div class="nm" id="n6" style="left:472.75px;top:648.2px;width:95.05px;height:27.5px;line-height:27.5px"><span style="transform:translateX(-50%) scaleX(0.9007)">Татарстан</span></div>
<div class="vl" id="v6" style="left:490.4px;top:679.9px;width:60.1px;height:41.7px;line-height:41.7px"><span>867</span></div>
<div class="nm" id="n7" style="left:697.4px;top:736.3px;width:134px;height:28.2px;line-height:28.2px"><span style="transform:translateX(-50%) scaleX(0.9275)">Башкортостан</span></div>
<div class="vl big" id="v7" style="left:691.3px;top:768.2px;width:146.4px;height:76.7px;line-height:76.7px"><span>1 268</span></div>
<div class="nm" id="n8" style="left:126.2px;top:750.9px;width:99.8px;height:28.1px;line-height:28.1px"><span style="transform:translateX(-50%) scaleX(0.9521)">Мордовия</span></div>
<div class="vl" id="v8" style="left:142.5px;top:782.5px;width:67.7px;height:42.2px;line-height:42.2px"><span>153</span></div>
<div class="nm" id="n9" style="left:285.2px;top:765.8px;width:161.1px;height:27.8px;line-height:27.8px"><span style="transform:translateX(-50%) scaleX(0.9255)">Ульяновская обл.</span></div>
<div class="vl" id="v9" style="left:336.8px;top:797.3px;width:60.3px;height:42.1px;line-height:42.1px"><span>415</span></div>
<div class="nm" id="n10" style="left:116.7px;top:844.2px;width:155.9px;height:28.2px;line-height:28.2px"><span style="transform:translateX(-50%) scaleX(0.9437)">Пензенская обл.</span></div>
<div class="vl" id="v10" style="left:161px;top:876.2px;width:67.1px;height:42.2px;line-height:42.2px"><span>244</span></div>
<div class="nm" id="n11" style="left:413.4px;top:841.2px;width:146.7px;height:27.8px;line-height:27.8px"><span style="transform:translateX(-50%) scaleX(0.9214)">Самарская обл.</span></div>
<div class="vl w4" id="v11" style="left:445.6px;top:873.4px;width:82.9px;height:41.4px;line-height:41.4px"><span>1 069</span></div>
<div class="nm" id="n12" style="left:589.5px;top:923.6px;width:175.6px;height:28.5px;line-height:28.5px"><span style="transform:translateX(-50%) scaleX(0.9477)">Оренбургская обл.</span></div>
<div class="vl" id="v12" style="left:646.7px;top:955.9px;width:60.9px;height:42.5px;line-height:42.5px"><span>776</span></div>
<div class="nm" id="n13" style="left:231.1px;top:970.2px;width:162.4px;height:28.2px;line-height:28.2px"><span style="transform:translateX(-50%) scaleX(0.9268)">Саратовская обл.</span></div>
<div class="vl" id="v13" style="left:282.2px;top:1002.3px;width:61.2px;height:42.5px;line-height:42.5px"><span>871</span></div>
<div id="kaz">КАЗАХСТАН</div>
<div id="src">Источник данных: "Idel.Реалии"</div>
<div id="badge">Idel.Реалии (RFE/RL)</div>
</body></html>
